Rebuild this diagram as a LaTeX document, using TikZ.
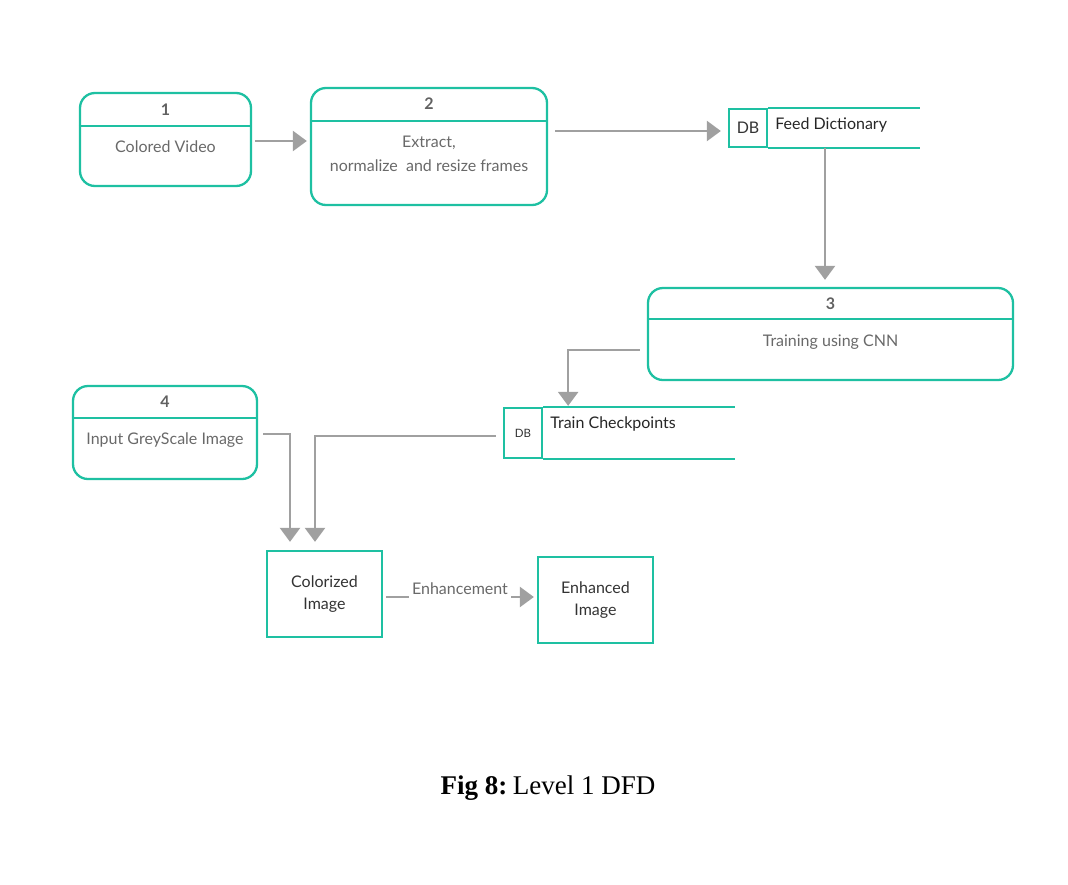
\documentclass[tikz,border=0pt]{standalone}
\usepackage{xcolor}
\usepackage{fontspec}
\setmainfont{Liberation Serif}
\newfontfamily\lato{Lato}
\usepackage{tikz}
\usetikzlibrary{arrows.meta, positioning}
\definecolor{dfdteal}{RGB}{30,192,162}
\definecolor{flowgray}{RGB}{160,160,160}
\definecolor{labelgray}{RGB}{105,105,105}
\tikzstyle{process}   = [rectangle, rounded corners=15pt, draw=dfdteal, line width=2.3pt]
\tikzstyle{divider}   = [draw=dfdteal, line width=2.3pt]
\tikzstyle{num}       = [font=\lato\bfseries\fontsize{16}{19}\selectfont, text=black!62]
\tikzstyle{ptext}     = [font=\lato\fontsize{16}{24}\selectfont, text=labelgray, align=center]
\tikzstyle{entity}    = [rectangle, draw=dfdteal, line width=2.3pt, minimum width=115pt, minimum height=86pt, align=center, font=\lato\fontsize{16}{22}\selectfont, text=black!80]
\tikzstyle{store}     = [rectangle, draw=dfdteal, line width=2.3pt, minimum width=38pt, inner sep=0pt, text=black!80]
\tikzstyle{storetext} = [font=\lato\fontsize{16}{19}\selectfont, text=black!85, inner sep=0pt]
\tikzstyle{arrow}     = [-{Triangle[length=14pt,width=20pt]}, draw=flowgray, line width=2.5pt]

\begin{document}
\begin{tikzpicture}[x=1pt, y=-1pt]
    \useasboundingbox (0,0) rectangle (1068,884);

    % processes
    \node (p1) [process, minimum width=171pt, minimum height=93pt] at (165.5,139.5) {};
    \draw [divider] ([yshift=-34pt]p1.north west) -- ([yshift=-34pt]p1.north east);
    \node (n1) [num] at ([yshift=-18pt]p1.north) {1};
    \node (t1) [ptext] at ([yshift=-55pt]p1.north) {Colored Video};

    \node (p2) [process, minimum width=236pt, minimum height=117pt] at (429,146.5) {};
    \draw [divider] ([yshift=-34pt]p2.north west) -- ([yshift=-34pt]p2.north east);
    \node (n2) [num] at ([yshift=-17pt]p2.north) {2};
    \node (t2) [ptext] at ([yshift=-67pt]p2.north) {Extract,\\normalize\ \ and resize frames};

    \node (p3) [process, minimum width=365pt, minimum height=92pt] at (830.5,334) {};
    \draw [divider] ([yshift=-32pt]p3.north west) -- ([yshift=-32pt]p3.north east);
    \node (n3) [num] at ([yshift=-17pt]p3.north) {3};
    \node (t3) [ptext] at ([yshift=-55pt]p3.north) {Training using CNN};

    \node (p4) [process, minimum width=184pt, minimum height=93pt] at (165,432.5) {};
    \draw [divider] ([yshift=-33pt]p4.north west) -- ([yshift=-33pt]p4.north east);
    \node (n4) [num] at ([yshift=-17pt]p4.north) {4};
    \node (t4) [ptext] at ([yshift=-55pt]p4.north) {Input GreyScale Image};

    % data stores
    \node (db1) [store, minimum height=38pt, font=\lato\fontsize{16}{19}\selectfont] at (748,128) {DB};
    \draw [divider] (db1.north east) -- ++(152,0);
    \draw [divider] (db1.south east) -- ++(152,0);
    \node (fd) [storetext, anchor=west] at ([xshift=7pt,yshift=-17pt]db1.north east) {Feed Dictionary};

    \node (db2) [store, minimum height=50pt, font=\lato\fontsize{11.5}{13}\selectfont] at (523,433) {\raisebox{-1.5pt}{DB}};
    \draw [divider] (db2.north east) -- ++(192,0);
    \draw [divider] (db2.south east) -- ++(192,0);
    \node (tc) [storetext, anchor=west] at ([xshift=7pt,yshift=-17pt]db2.north east) {Train Checkpoints};

    % images
    \node (ci) [entity] at (324.5,594) {Colorized\\Image};
    \node (ei) [entity] at (595.5,600) {Enhanced\\Image};

    % flows
    \draw [arrow] ([xshift=3pt,yshift=-1.5pt]p1.east) -- ([xshift=-3pt,yshift=-1.5pt]p2.west |- p1.east);
    \draw [arrow] ([xshift=7pt,yshift=-3pt]p2.east |- db1.west) -- ([xshift=-7pt,yshift=-3pt]db1.west);
    \draw [arrow] ([xshift=-5.5pt]p3.north |- db1.south) -- ([xshift=-5.5pt,yshift=7pt]p3.north);
    \draw [arrow] ([xshift=-7pt,yshift=-16pt]p3.west) -| ([xshift=25pt,yshift=1pt]db2.north east);
    \draw [arrow] ([xshift=5pt,yshift=-1.5pt]p4.east) -| ([xshift=-34.5pt,yshift=8pt]ci.north);
    \draw [arrow] ([xshift=-7pt,yshift=-3pt]db2.west) -| ([xshift=-9.5pt,yshift=8pt]ci.north);
    \draw [arrow] ([xshift=3pt,yshift=-3pt]ci.east) -- node[fill=white, inner xsep=3pt, inner ysep=5pt, yshift=8pt, font=\lato\fontsize{16}{19}\selectfont, text=labelgray] {Enhancement} ([xshift=-3pt,yshift=3pt]ei.west);

    % caption
    \node (cap) [font=\fontsize{27}{32}\selectfont] at (548,788) {\textbf{Fig 8:}\hspace{0.2em}Level 1 DFD};
\end{tikzpicture}
\end{document}
